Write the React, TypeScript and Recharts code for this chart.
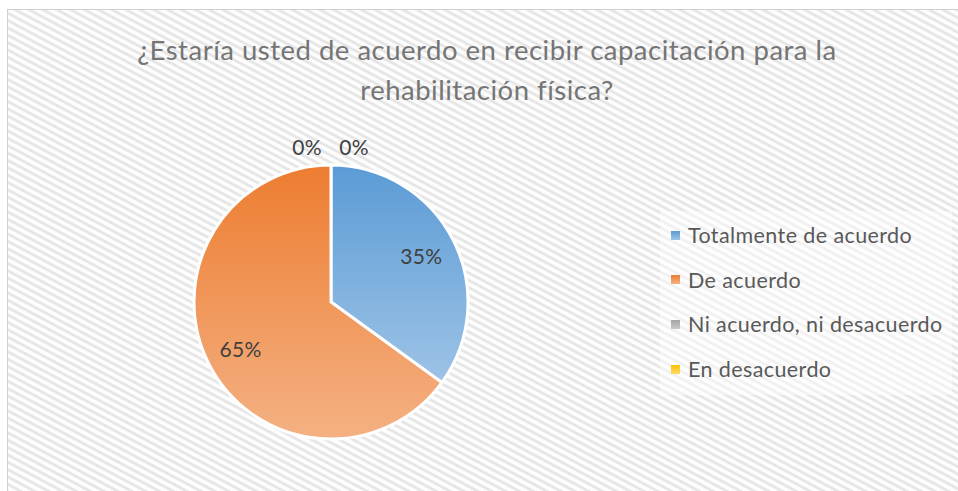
import React from "react";
import { PieChart, Pie, Cell, Legend } from "recharts";

const categories = [
  "Totalmente de acuerdo",
  "De acuerdo",
  "Ni acuerdo, ni desacuerdo",
  "En desacuerdo",
];
const values = [35, 65, 0, 0];
const titleLines = [
  "¿Estaría usted de acuerdo en recibir capacitación para la",
  "rehabilitación física?",
];

const gradients = [
  { id: "g0", top: "#5b9bd5", bottom: "#9dc3e6" },
  { id: "g1", top: "#ed7d31", bottom: "#f4b183" },
  { id: "g2", top: "#a5a5a5", bottom: "#c9c9c9" },
  { id: "g3", top: "#ffc000", bottom: "#ffd966" },
];

const data = categories.map((name, i) => ({ name, value: values[i] }));

const FONT = "Lato, 'Open Sans', sans-serif";

const RADIAN = Math.PI / 180;

const renderLabel = (props: any) => {
  const { cx, cy, midAngle, outerRadius, percent, index } = props;
  const pct = `${Math.round(percent * 100)}%`;
  let r = outerRadius * 0.74;
  let dx = 0;
  if (percent === 0) {
    r = outerRadius + 19;
    dx = index === 2 ? -24 : 23;
  }
  const x = cx + r * Math.cos(-midAngle * RADIAN) + dx;
  const y = cy + r * Math.sin(-midAngle * RADIAN);
  return (
    <text
      x={x}
      y={y}
      fill="#404040"
      fontSize={21}
      fontFamily={FONT}
      letterSpacing={0.3}
      textAnchor="middle"
      dominantBaseline="central"
    >
      {pct}
    </text>
  );
};

const renderLegend = (props: any) => {
  const payload = [...(props.payload || [])].sort(
    (a: any, b: any) => categories.indexOf(a.value) - categories.indexOf(b.value)
  );
  return (
    <div style={{ fontFamily: FONT, fontSize: 21.5, letterSpacing: 0.4, color: "#595959" }}>
      {payload.map((p: any) => {
        const i = categories.indexOf(p.value);
        return (
          <div
            key={p.value}
            style={{ height: 44.6, display: "flex", alignItems: "center", whiteSpace: "nowrap" }}
          >
            <svg width={9} height={9} style={{ marginRight: 8, marginLeft: 11 }}>
              <rect width={9} height={9} fill={`url(#${gradients[i].id})`} />
            </svg>
            <span>{p.value}</span>
          </div>
        );
      })}
    </div>
  );
};

export default function App() {
  return (
    <div style={{ position: "absolute", left: 0, top: 0, width: 958, height: 491 }}>
      <svg
        width={958}
        height={491}
        style={{ position: "absolute", left: 0, top: 0 }}
      >
        <defs>
          <pattern
            id="hatch"
            width={12}
            height={6.5}
            patternUnits="userSpaceOnUse"
            patternTransform="rotate(28)"
          >
            <rect width={12} height={6.5} fill="#fdfdfd" />
            <rect y={0} width={12} height={2.8} fill="#e6e6e6" />
          </pattern>
          {gradients.map((g) => (
            <linearGradient key={g.id} id={g.id} x1="0" y1="0" x2="0" y2="1">
              <stop offset="0%" stopColor={g.top} />
              <stop offset="100%" stopColor={g.bottom} />
            </linearGradient>
          ))}
        </defs>
        <rect x={0} y={0} width={958} height={491} fill="#ffffff" />
        <rect x={7.5} y={9.5} width={960} height={490} fill="url(#hatch)" stroke="#d0d0d0" strokeWidth={1} />
        <rect x={660} y={211} width={292} height={184} fill="#ffffff" opacity={0.45} />
        {titleLines.map((t, i) => (
          <text
            key={i}
            x={487}
            y={60 + i * 40}
            textAnchor="middle"
            fill="#757575"
            fontSize={27.5}
            letterSpacing={0.5}
            fontFamily={FONT}
          >
            {t}
          </text>
        ))}
      </svg>
      <div style={{ position: "absolute", left: 0, top: 0 }}>
        <PieChart width={958} height={491} margin={{ top: 0, right: 0, bottom: 0, left: 0 }}>
          <Pie
            data={data}
            dataKey="value"
            nameKey="name"
            cx={331}
            cy={302}
            outerRadius={137}
            startAngle={90}
            endAngle={-270}
            stroke="#ffffff"
            strokeWidth={3}
            label={renderLabel}
            labelLine={false}
            isAnimationActive={false}
          >
            {data.map((d, i) => (
              <Cell key={d.name} fill={`url(#${gradients[i].id})`} />
            ))}
          </Pie>
          <Legend
            layout="vertical"
            content={renderLegend}
            wrapperStyle={{ position: "absolute", left: 660, top: 213, width: 295 }}
          />
        </PieChart>
      </div>
    </div>
  );
}
